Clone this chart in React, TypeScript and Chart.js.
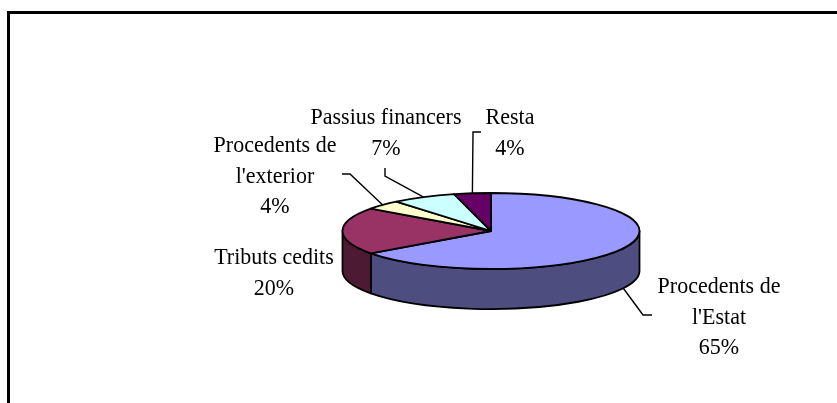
import React, { useEffect, useRef } from "react";
import { Chart, registerables } from "chart.js";

Chart.register(...registerables);

// ---- data ----
const categories = [
  "Procedents de l'Estat",
  "Tributs cedits",
  "Procedents de l'exterior",
  "Passius financers",
  "Resta",
];
const labelLines = [
  ["Procedents de", "l'Estat"],
  ["Tributs cedits"],
  ["Procedents de", "l'exterior"],
  ["Passius financers"],
  ["Resta"],
];
const shares = [65, 20, 4, 7, 4];

// ---- styles ----
const topColors = ["#9999FF", "#993366", "#FFFFCC", "#CCFFFF", "#660066"];
const sideColors = ["#4D4D80", "#4D1A33", "#808066", "#668080", "#330033"];
const SQUASH = 38 / 148.5;
const DEPTH = 40 / 148.5;
const FONT = '22px "Liberation Serif", "Times New Roman", serif';
const LINE_H = 30.5;
const TEXT_STRETCH = 1.08;

// ---- label layout (text centre, first line y, leader anchor/elbow/end) ----
type LabelLayout = {
  cx: number;
  y0: number;
  anchor: "top" | "bottom" | null;
  elbow?: [number, number];
  end?: [number, number];
};
const labelLayout: LabelLayout[] = [
  { cx: 719, y0: 287, anchor: "bottom", elbow: [643, 315], end: [652, 315] },
  { cx: 274, y0: 258, anchor: null },
  { cx: 275, y0: 146, anchor: "top", elbow: [350, 174], end: [342, 174] },
  { cx: 386, y0: 118, anchor: "top", elbow: [385, 176], end: [385, 168] },
  { cx: 510, y0: 118, anchor: "top", elbow: [473, 132], end: [481, 132] },
];

const framePlugin = {
  id: "frame",
  beforeDraw(chart: any) {
    const ctx = chart.ctx;
    ctx.save();
    ctx.fillStyle = "#000";
    ctx.fillRect(7, 11, chart.width, 3);
    ctx.fillRect(7, 11, 3, chart.height);
    ctx.restore();
  },
};

const pie3dPlugin = {
  id: "pie3d",
  beforeDatasetsDraw(chart: any) {
    const ctx = chart.ctx;
    const arcs = chart.getDatasetMeta(0).data;
    if (!arcs.length) return false;
    const { x, y, outerRadius: r } = arcs[0].getProps(["x", "y", "outerRadius"], true);
    const ry = r * SQUASH;
    const depth = r * DEPTH;
    ctx.save();
    ctx.lineWidth = 1.8;
    ctx.strokeStyle = "#000";
    ctx.lineJoin = "round";
    // side walls (front half only)
    arcs.forEach((arc: any, i: number) => {
      const { startAngle, endAngle } = arc.getProps(["startAngle", "endAngle"], true);
      for (const k of [-1, 0, 1]) {
        const lo = Math.max(startAngle, 2 * Math.PI * k);
        const hi = Math.min(endAngle, Math.PI + 2 * Math.PI * k);
        if (hi > lo) {
          ctx.beginPath();
          ctx.ellipse(x, y, r, ry, 0, lo, hi, false);
          ctx.ellipse(x, y + depth, r, ry, 0, hi, lo, true);
          ctx.closePath();
          ctx.fillStyle = sideColors[i];
          ctx.fill();
          ctx.stroke();
        }
      }
    });
    // top faces
    arcs.forEach((arc: any, i: number) => {
      const { startAngle, endAngle } = arc.getProps(["startAngle", "endAngle"], true);
      ctx.beginPath();
      ctx.moveTo(x, y);
      ctx.ellipse(x, y, r, ry, 0, startAngle, endAngle, false);
      ctx.closePath();
      ctx.fillStyle = topColors[i];
      ctx.fill();
      ctx.stroke();
    });
    ctx.restore();
    return false;
  },
  afterDraw(chart: any) {
    const ctx = chart.ctx;
    const arcs = chart.getDatasetMeta(0).data;
    if (!arcs.length) return;
    const { x, y, outerRadius: r } = arcs[0].getProps(["x", "y", "outerRadius"], true);
    const ry = r * SQUASH;
    const depth = r * DEPTH;
    const total = shares.reduce((a, b) => a + b, 0);
    ctx.save();
    ctx.font = FONT;
    ctx.fillStyle = "#000";
    ctx.strokeStyle = "#000";
    ctx.lineWidth = 1.4;
    ctx.textAlign = "center";
    ctx.textBaseline = "middle";
    arcs.forEach((arc: any, i: number) => {
      const L = labelLayout[i];
      const { startAngle, endAngle } = arc.getProps(["startAngle", "endAngle"], true);
      const mid = (startAngle + endAngle) / 2;
      if (L.anchor && L.elbow && L.end) {
        const ax = x + r * Math.cos(mid);
        const ay = y + ry * Math.sin(mid) + (L.anchor === "bottom" ? depth : 0);
        ctx.beginPath();
        ctx.moveTo(ax, ay);
        ctx.lineTo(L.elbow[0], L.elbow[1]);
        ctx.lineTo(L.end[0], L.end[1]);
        ctx.stroke();
      }
      const pct = Math.round((shares[i] / total) * 100) + "%";
      const lines = [...labelLines[i], pct];
      lines.forEach((t, j) => {
        const ty = L.y0 + j * LINE_H;
        ctx.save();
        ctx.translate(L.cx, ty);
        ctx.scale(1, TEXT_STRETCH);
        ctx.fillText(t, 0, 0);
        ctx.restore();
      });
    });
    ctx.restore();
  },
};

export default function App() {
  const ref = useRef<HTMLCanvasElement | null>(null);
  useEffect(() => {
    if (!ref.current) return;
    const chart = new Chart(ref.current, {
      type: "pie",
      data: {
        labels: categories,
        datasets: [
          {
            data: shares,
            backgroundColor: topColors,
            borderWidth: 0,
            hoverBorderWidth: 0,
            hoverOffset: 0,
          },
        ],
      },
      options: {
        responsive: false,
        animation: false,
        events: [],
        layout: { padding: { left: 342.5, right: 197.5, top: 82.5, bottom: 23.5 } },
        plugins: { legend: { display: false }, tooltip: { enabled: false } },
      },
      plugins: [framePlugin, pie3dPlugin],
    } as any);
    return () => chart.destroy();
  }, []);
  return (
    <div style={{ position: "fixed", left: 0, top: 0, width: 837, height: 403, background: "#fff" }}>
      <canvas ref={ref} width={837} height={403} style={{ width: 837, height: 403, display: "block" }} />
    </div>
  );
}
